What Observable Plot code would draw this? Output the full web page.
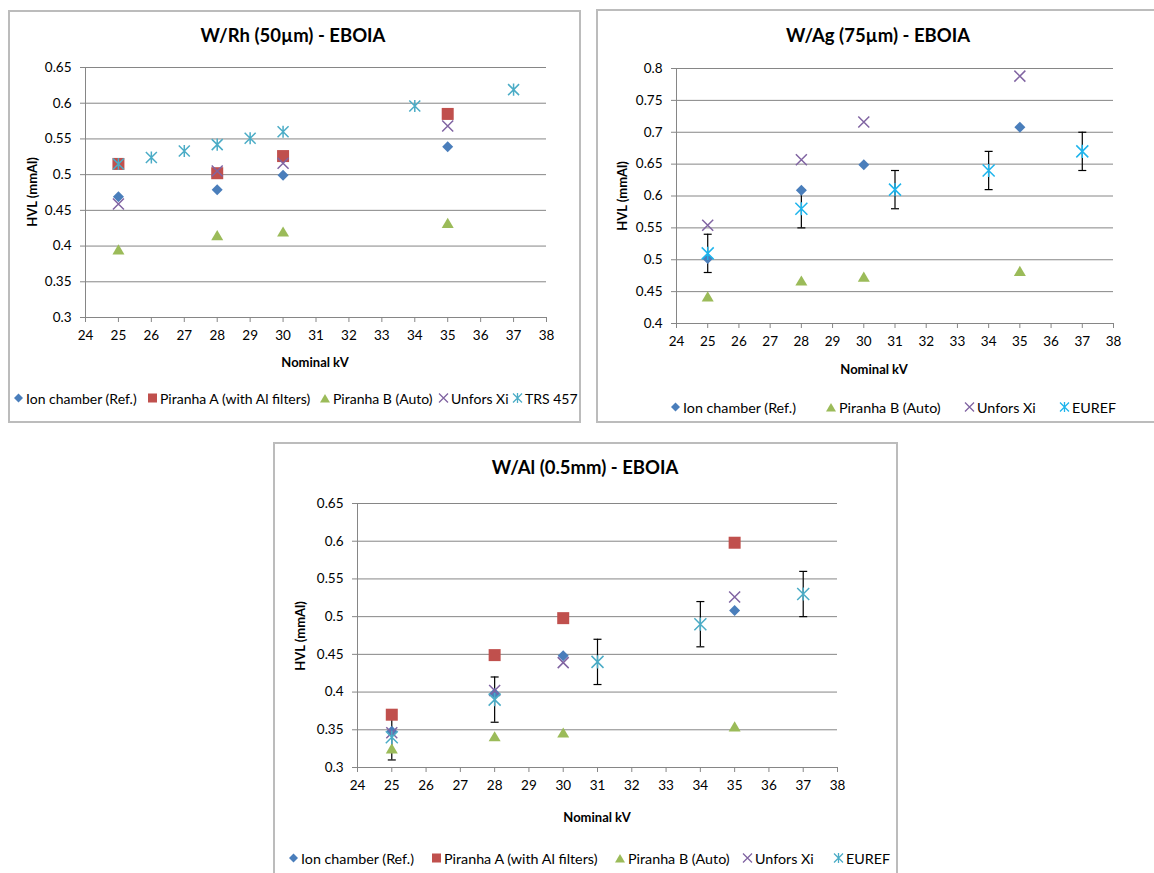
<!DOCTYPE html>
<html><head><meta charset="utf-8">
<script src="https://cdn.jsdelivr.net/npm/d3@7"></script>
<script src="https://cdn.jsdelivr.net/npm/@observablehq/plot@0.6"></script>
<style>
body{margin:0;background:#fff;font-family:Lato,"Open Sans",sans-serif;color:#000;}
#root{position:relative;width:1154px;height:873px;overflow:hidden;background:#fff;}
.panel{position:absolute;border:2px solid #bcbcbc;box-sizing:border-box;background:#fff;}
.abs{position:absolute;white-space:nowrap;}
.title{font-weight:bold;font-size:18.5px;transform:translate(-50%,-50%);}
.xlab{font-weight:bold;font-size:13px;transform:translate(-50%,-50%);}
.ylab{font-weight:bold;font-size:13px;transform:translate(-50%,-50%) rotate(-90deg);}
.leg{display:flex;align-items:center;font-size:13px;transform:translateY(-50%);}
.leg svg{margin-right:2px;}
</style></head>
<body><div id="root"></div>
<script>
// ---------- data ----------
const kvTicks = [24,25,26,27,28,29,30,31,32,33,34,35,36,37,38];
const yTicksRh = [0.3,0.35,0.4,0.45,0.5,0.55,0.6,0.65];
const yTicksAg = [0.4,0.45,0.5,0.55,0.6,0.65,0.7,0.75,0.8];
const yTicksAl = [0.3,0.35,0.4,0.45,0.5,0.55,0.6,0.65];

const kv = [25, 28, 30, 35];
// W/Rh (50µm)
const rhIon    = [0.469, 0.479, 0.499, 0.539];
const rhPirA   = [0.515, 0.502, 0.526, 0.585];
const rhPirB   = [0.395, 0.415, 0.420, 0.432];
const rhUnfors = [0.459, 0.505, 0.516, 0.568];
const trsKv    = [25, 26, 27, 28, 29, 30, 34, 37];
const rhTrs    = [0.515, 0.524, 0.533, 0.542, 0.551, 0.560, 0.596, 0.619];
// W/Ag (75µm)
const agIon    = [0.502, 0.609, 0.649, 0.708];
const agPirB   = [0.442, 0.467, 0.473, 0.482];
const agUnfors = [0.554, 0.657, 0.716, 0.788];
const eurefKv  = [25, 28, 31, 34, 37];
const agEuref  = [0.51, 0.58, 0.61, 0.64, 0.67];
const agEurefErr = [0.03, 0.03, 0.03, 0.03, 0.03];
// W/Al (0.5mm)
const alIon    = [0.348, 0.398, 0.448, 0.508];
const alPirA   = [0.370, 0.449, 0.498, 0.598];
const alPirB   = [0.325, 0.341, 0.346, 0.354];
const alUnfors = [0.346, 0.402, 0.439, 0.526];
const alEuref  = [0.34, 0.39, 0.44, 0.49, 0.53];
const alEurefErr = [0.03, 0.03, 0.03, 0.03, 0.03];

// ---------- symbols ----------
const R = s => Math.sqrt(s/Math.PI);
const SYM = {
  diamond:{draw(c,s){const r=R(s);c.moveTo(0,-r);c.lineTo(r,0);c.lineTo(0,r);c.lineTo(-r,0);c.closePath();}},
  square:{draw(c,s){const r=R(s);c.moveTo(-r,-r);c.lineTo(r,-r);c.lineTo(r,r);c.lineTo(-r,r);c.closePath();}},
  triangle:{draw(c,s){const r=R(s);c.moveTo(0,-r*0.9);c.lineTo(r,r*0.8);c.lineTo(-r,r*0.8);c.closePath();}},
  times:{draw(c,s){const r=R(s);c.moveTo(-r,-r);c.lineTo(r,r);c.moveTo(-r,r);c.lineTo(r,-r);}},
  star:{draw(c,s){const r=R(s);c.moveTo(-r,-r);c.lineTo(r,r);c.moveTo(-r,r);c.lineTo(r,-r);c.moveTo(0,-r*1.1);c.lineTo(0,r*1.1);}},
  cap:{draw(c,s){const r=R(s);c.moveTo(-r,0);c.lineTo(r,0);}}
};
const C = {ion:"#4a7ebb", pirA:"#c0504d", pirB:"#9bbb59", unfors:"#8064a2", trs:"#4bacc6", eurefAg:"#1eb4ec", eurefAl:"#4bacc6"};

const root = document.getElementById("root");
function div(cls, css, html){const d=document.createElement("div");d.className=cls;Object.assign(d.style,css);if(html!=null)d.innerHTML=html;root.appendChild(d);return d;}

function iconSvg(sym, color, filled, r){
  const p = d3.path(); SYM[sym].draw(p, Math.PI*r*r);
  const sz = 2*r+2;
  return `<svg width="${sz}" height="${sz}" viewBox="${-sz/2} ${-sz/2} ${sz} ${sz}"><path d="${p}" ${filled?`fill="${color}"`:`fill="none" stroke="${color}" stroke-width="1.3"`}/></svg>`;
}

function series(xs, ys, sym, color, filled, r){
  const data = xs.map((x,i)=>({x, y: ys[i]}));
  return Plot.dot(data, filled
    ? {x:"x", y:"y", symbol:SYM[sym], r, fill:color, stroke:"none"}
    : {x:"x", y:"y", symbol:SYM[sym], r, fill:"none", stroke:color, strokeWidth:1.5});
}
function errorBars(xs, ys, errs){
  const data = xs.map((x,i)=>({x, lo: ys[i]-errs[i], hi: ys[i]+errs[i]}));
  return [
    Plot.ruleX(data, {x:"x", y1:"lo", y2:"hi", stroke:"#000", strokeWidth:1.2}),
    Plot.dot(data, {x:"x", y:"lo", symbol:SYM.cap, r:4, stroke:"#000", strokeWidth:1.2}),
    Plot.dot(data, {x:"x", y:"hi", symbol:SYM.cap, r:4, stroke:"#000", strokeWidth:1.2})
  ];
}

function chart({svgLeft, svgTop, width, height, fx0, fx1, fy0, fy1, yTicks, marks}){
  const p = Plot.plot({
    width, height,
    marginLeft: fx0 - svgLeft, marginRight: svgLeft + width - fx1,
    marginTop: fy0 - svgTop, marginBottom: svgTop + height - fy1,
    style:{fontFamily:"Lato, 'Open Sans', sans-serif", fontSize:"13.5px", color:"#000", background:"transparent", overflow:"visible"},
    x:{domain:[24,38], label:null},
    y:{domain:[yTicks[0], yTicks[yTicks.length-1]], label:null},
    marks:[
      Plot.gridY(yTicks.slice(1), {stroke:"#868686", strokeOpacity:1}),
      Plot.ruleX([24], {stroke:"#868686"}),
      Plot.ruleY([yTicks[0]], {stroke:"#868686"}),
      Plot.axisY(yTicks, {tickSize:5, tickPadding:9, stroke:"#868686", tickFormat:d=>String(d), label:null, fill:"#000"}),
      Plot.axisX(kvTicks, {tickSize:5, tickPadding:8, stroke:"#868686", tickFormat:d=>String(d), label:null, fill:"#000"}),
      ...marks
    ]
  });
  p.style.position = "absolute"; p.style.left = svgLeft+"px"; p.style.top = svgTop+"px";
  root.appendChild(p);
}

function legend(items, y, fontSize){
  for (const it of items){
    div("abs leg", {left: it.left+"px", top: y+"px", fontSize: fontSize+"px"},
      iconSvg(it.sym, it.color, it.filled, it.r) + `<span>${it.label}</span>`);
  }
}

// ---------- panel boxes ----------
div("panel", {left:"8px", top:"10px", width:"573px", height:"413px"});
div("panel", {left:"596px", top:"9px", width:"600px", height:"414px"});
div("panel", {left:"273px", top:"442px", width:"625px", height:"450px"});

// ---------- Panel 1: W/Rh ----------
div("abs title", {left:"293px", top:"35px"}, "W/Rh (50µm) - EBOIA");
chart({svgLeft:20, svgTop:50, width:560, height:300, fx0:85, fx1:546, fy0:67, fy1:317, yTicks:yTicksRh, marks:[
  series(kv, rhIon, "diamond", C.ion, true, 5.5),
  series(kv, rhPirA, "square", C.pirA, true, 6),
  series(kv, rhPirB, "triangle", C.pirB, true, 6),
  series(kv, rhUnfors, "times", C.unfors, false, 5.5),
  series(trsKv, rhTrs, "star", C.trs, false, 5.5)
]});
div("abs ylab", {left:"32px", top:"192px"}, "HVL (mmAl)");
div("abs xlab", {left:"315px", top:"362px"}, "Nominal kV");
legend([
  {left:13, sym:"diamond", color:C.ion, filled:true, r:4.5, label:"Ion chamber (Ref.)"},
  {left:147, sym:"square", color:C.pirA, filled:true, r:4.5, label:"Piranha A (with Al filters)"},
  {left:319, sym:"triangle", color:C.pirB, filled:true, r:5, label:"Piranha B (Auto)"},
  {left:438, sym:"times", color:C.unfors, filled:false, r:4.5, label:"Unfors Xi"},
  {left:512, sym:"star", color:C.trs, filled:false, r:4.5, label:"TRS 457"}
], 398, 14);

// ---------- Panel 2: W/Ag ----------
div("abs title", {left:"878px", top:"35px"}, "W/Ag (75µm) - EBOIA");
chart({svgLeft:610, svgTop:50, width:540, height:300, fx0:676, fx1:1113, fy0:68, fy1:323, yTicks:yTicksAg, marks:[
  ...errorBars(eurefKv, agEuref, agEurefErr),
  series(kv, agIon, "diamond", C.ion, true, 5.5),
  series(kv, agPirB, "triangle", C.pirB, true, 6),
  series(kv, agUnfors, "times", C.unfors, false, 5.5),
  series(eurefKv, agEuref, "star", C.eurefAg, false, 6)
]});
div("abs ylab", {left:"622px", top:"196px"}, "HVL (mmAl)");
div("abs xlab", {left:"874px", top:"369px"}, "Nominal kV");
legend([
  {left:670, sym:"diamond", color:C.ion, filled:true, r:4.5, label:"Ion chamber (Ref.)"},
  {left:825, sym:"triangle", color:C.pirB, filled:true, r:5, label:"Piranha B (Auto)"},
  {left:964, sym:"times", color:C.unfors, filled:false, r:4.5, label:"Unfors Xi"},
  {left:1059, sym:"star", color:C.eurefAg, filled:false, r:4.5, label:"EUREF"}
], 407, 14.3);

// ---------- Panel 3: W/Al ----------
div("abs title", {left:"585px", top:"467px"}, "W/Al (0.5mm) - EBOIA");
chart({svgLeft:290, svgTop:485, width:600, height:310, fx0:357, fx1:837, fy0:503, fy1:767, yTicks:yTicksAl, marks:[
  ...errorBars(eurefKv, alEuref, alEurefErr),
  series(kv, alIon, "diamond", C.ion, true, 5.5),
  series(kv, alPirA, "square", C.pirA, true, 6),
  series(kv, alPirB, "triangle", C.pirB, true, 6),
  series(kv, alUnfors, "times", C.unfors, false, 5.5),
  series(eurefKv, alEuref, "star", C.eurefAl, false, 6)
]});
div("abs ylab", {left:"300px", top:"636px"}, "HVL (mmAl)");
div("abs xlab", {left:"597px", top:"817px"}, "Nominal kV");
legend([
  {left:288, sym:"diamond", color:C.ion, filled:true, r:4.5, label:"Ion chamber (Ref.)"},
  {left:431, sym:"square", color:C.pirA, filled:true, r:4.5, label:"Piranha A (with Al filters)"},
  {left:614, sym:"triangle", color:C.pirB, filled:true, r:5, label:"Piranha B (Auto)"},
  {left:742, sym:"times", color:C.unfors, filled:false, r:4.5, label:"Unfors Xi"},
  {left:833, sym:"star", color:C.eurefAl, filled:false, r:4.5, label:"EUREF"}
], 858, 14.3);
</script></body></html>
